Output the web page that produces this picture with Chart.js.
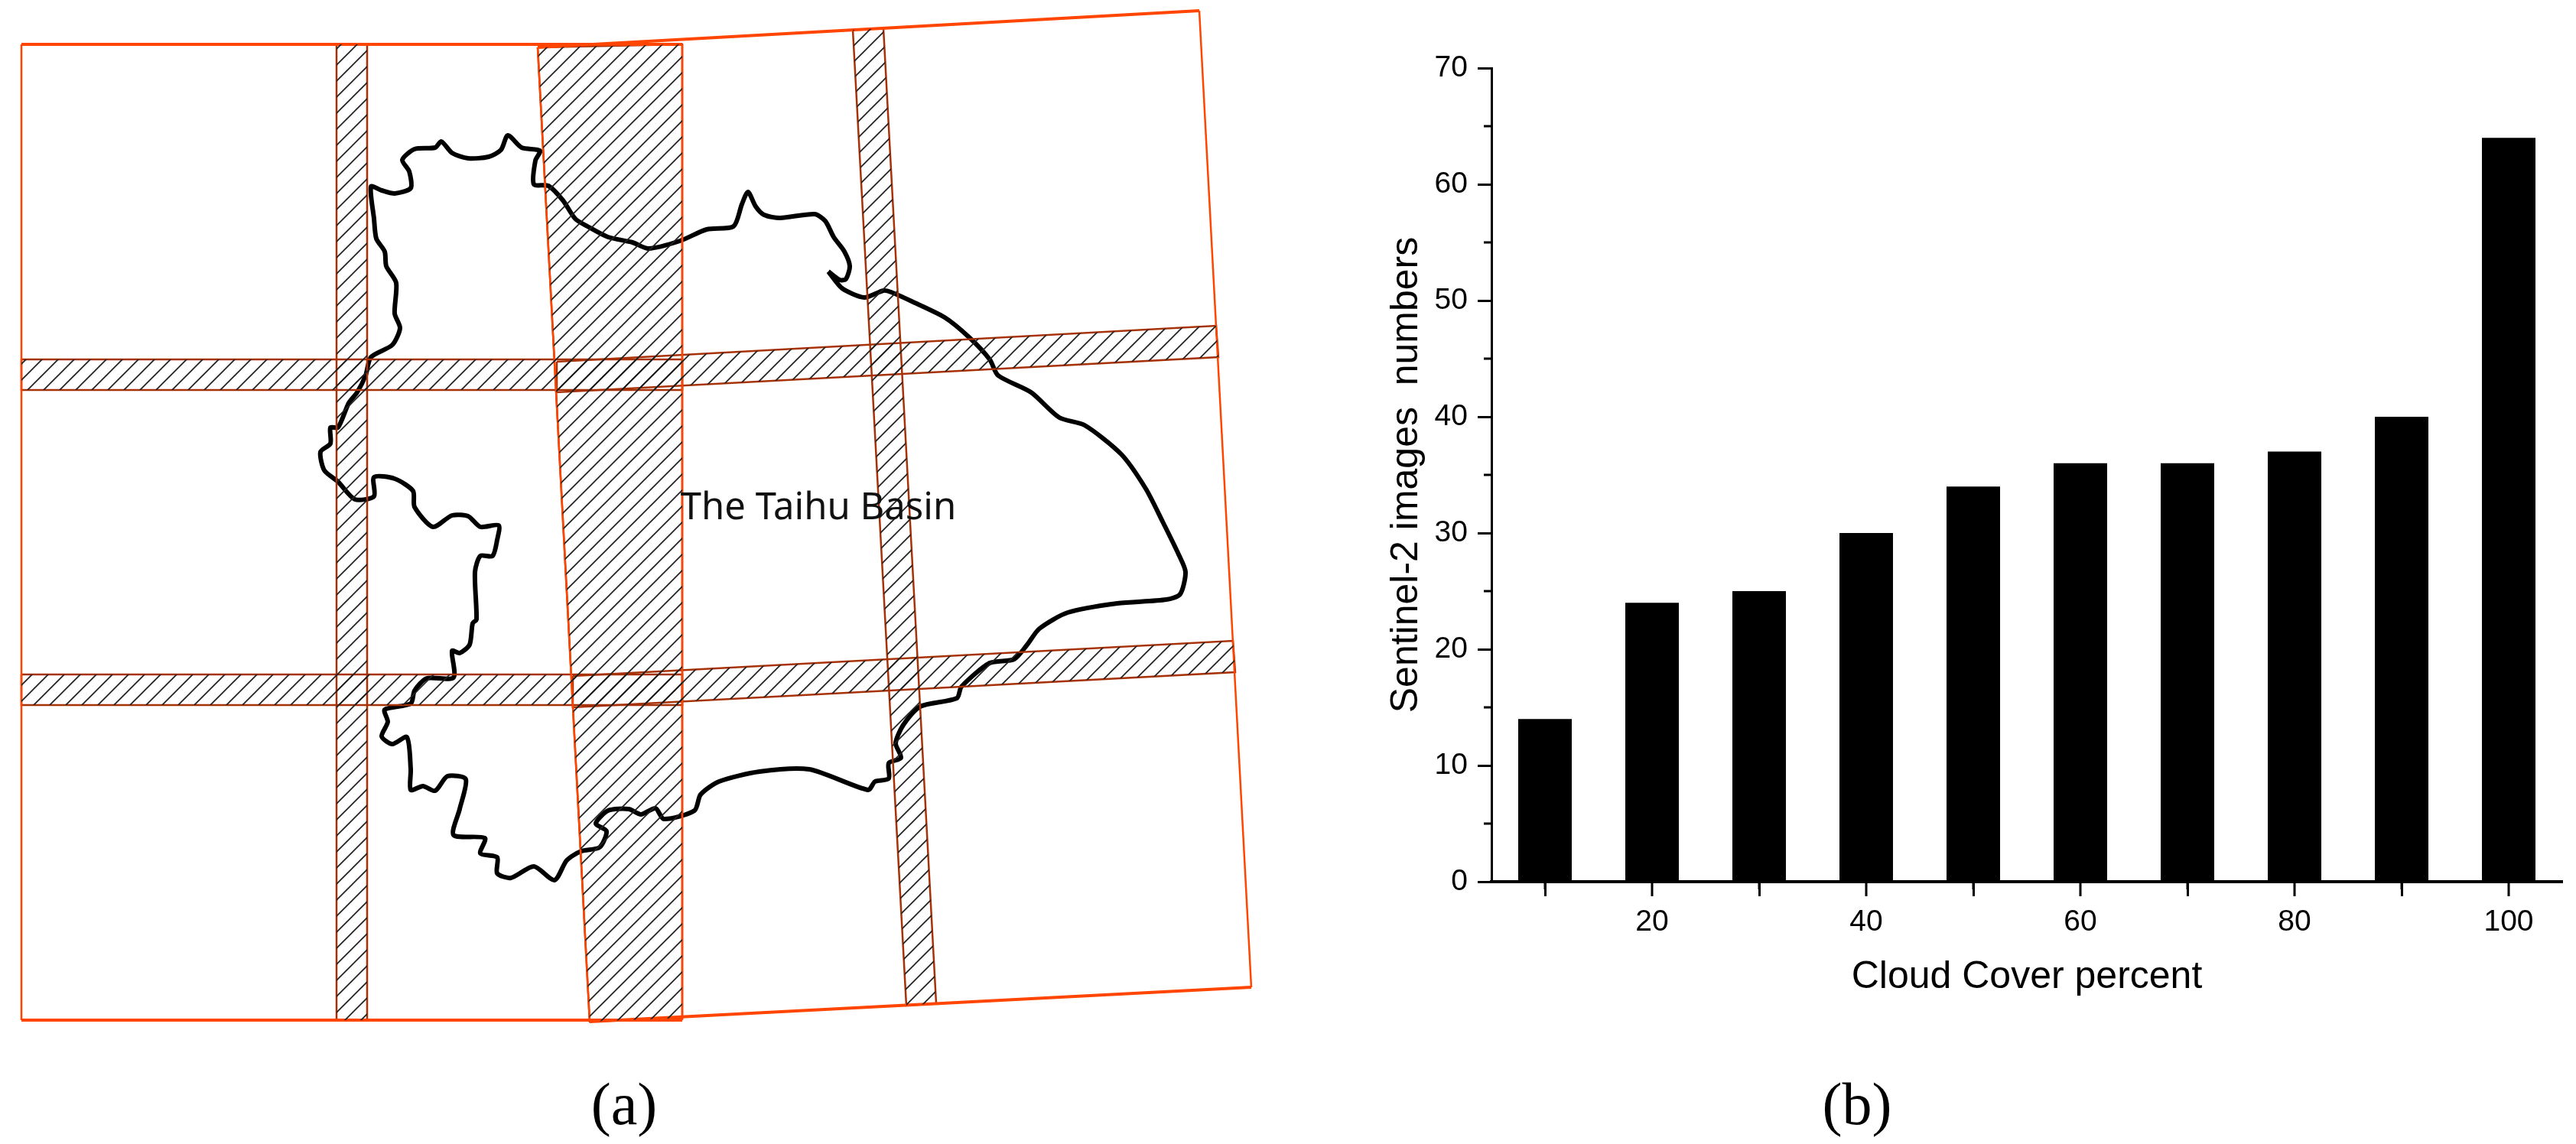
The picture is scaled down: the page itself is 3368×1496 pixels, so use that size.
<!DOCTYPE html>
<html>
<head>
<meta charset="utf-8">
<title>Taihu Basin Sentinel-2 coverage</title>
<script src="https://cdn.jsdelivr.net/npm/chart.js@4"></script>
<style>
  html, body { margin: 0; padding: 0; background: #fff; }
  canvas { position: absolute; top: 0; }
  #mapChart { left: 0; }
  #barChart { left: 1760px; }
</style>
</head>
<body>
<canvas id="mapChart" width="1760" height="1496"></canvas>
<canvas id="barChart" width="1608" height="1496"></canvas>
<script>
// bar chart values
const cloudCover = [10, 20, 30, 40, 50, 60, 70, 80, 90, 100];
const imageCounts = [14, 24, 25, 30, 34, 36, 36, 37, 40, 64];
const xMajorTicks = [20, 40, 60, 80, 100];
const xMinorTicks = [10, 30, 50, 70, 90];
const yMinorTicks = [5, 15, 25, 35, 45, 55, 65];

// scene frames
const leftFrame = [[28, 58], [892, 58], [892, 1334], [28, 1334]];
const rightFrame = [[703, 62], [1568, 14], [1636, 1291], [771, 1336]];

// overlap strips between neighbouring scenes
const stripWest = [[440, 58], [480, 58], [480, 1334], [440, 1334]];
const stripMiddle = [[703, 62], [892, 58], [892, 1331], [771, 1336]];
const stripEast = [[1115, 39], [1155, 37], [1224, 1312], [1185, 1315]];
const stripNorthLeft = [[28, 470], [892, 470], [892, 510], [28, 510]];
const stripSouthLeft = [[28, 882], [892, 882], [892, 922], [28, 922]];
const stripNorthRight = [[728, 473], [1590, 426], [1593, 467], [728, 513]];
const stripSouthRight = [[749, 884], [1612, 838], [1615, 879], [749, 925]];

// basin outline
const basinOutline = [
  [1083, 355], [1098, 366], [1106, 365], [1111, 348], [1104, 329], [1090, 310], [1079, 289], [1065, 280],
  [1020, 285], [999, 281], [988, 270], [978, 251], [970, 267], [959, 296], [924, 300], [889, 315],
  [848, 325], [827, 317], [795, 310], [768, 296], [752, 286], [736, 262], [717, 243], [698, 241],
  [700, 210], [706, 197], [682, 193], [664, 177], [655, 196], [639, 205], [612, 207], [591, 200],
  [577, 185], [569, 193], [542, 195], [526, 209], [535, 224], [537, 246], [516, 253], [499, 249],
  [485, 244], [489, 286], [492, 312], [503, 329], [505, 348], [518, 370], [516, 410], [523, 429],
  [513, 451], [485, 467], [478, 491], [467, 513], [456, 527], [442, 559], [432, 559], [432, 580],
  [419, 591], [424, 615], [442, 630], [464, 653], [489, 649], [489, 624], [516, 626], [540, 642],
  [542, 663], [566, 689], [591, 674], [612, 675], [628, 689], [652, 687], [650, 706], [644, 727],
  [628, 727], [621, 748], [623, 810], [618, 815], [614, 843], [601, 854], [591, 851], [593, 886],
  [558, 887], [542, 903], [537, 920], [503, 928], [507, 944], [499, 963], [513, 973], [532, 964],
  [537, 1006], [537, 1033], [553, 1028], [569, 1034], [585, 1015], [609, 1019], [601, 1058], [593, 1092],
  [634, 1096], [628, 1116], [650, 1121], [650, 1142], [668, 1148], [698, 1133], [725, 1151], [741, 1125],
  [760, 1113], [784, 1108], [793, 1087], [779, 1077], [795, 1060], [822, 1058], [838, 1065], [857, 1057],
  [868, 1071], [908, 1060], [916, 1039], [940, 1022], [993, 1009], [1058, 1006], [1135, 1033], [1144, 1022],
  [1162, 1018], [1162, 998], [1178, 991], [1171, 972], [1181, 948], [1203, 924], [1251, 913], [1257, 898],
  [1294, 867], [1326, 862], [1343, 843], [1359, 822], [1396, 801], [1461, 789], [1525, 784], [1543, 777],
  [1550, 748], [1541, 725], [1520, 682], [1498, 639], [1466, 594], [1418, 556], [1385, 546], [1348, 513],
  [1305, 491], [1294, 470], [1267, 441], [1235, 415], [1192, 394], [1165, 382], [1155, 380], [1130, 389],
  [1101, 377], [1083, 355]
];

const ORANGE = '#ff4500';
const STRIP_EDGE = '#a83208';

// 45 degree hatch tile for the overlap strips
function makeHatch() {
  const size = 21;
  const tile = document.createElement('canvas');
  tile.width = size;
  tile.height = size;
  const c = tile.getContext('2d');
  c.strokeStyle = '#222';
  c.lineWidth = 1.7;
  c.beginPath();
  c.moveTo(-2, size + 2);
  c.lineTo(size + 2, -2);
  c.moveTo(-2, 2);
  c.lineTo(2, -2);
  c.moveTo(size - 2, size + 2);
  c.lineTo(size + 2, size - 2);
  c.stroke();
  return c.createPattern(tile, 'repeat');
}

function toPoints(list, closed) {
  const pts = list.map(p => ({ x: p[0], y: p[1] }));
  if (closed) pts.push({ x: list[0][0], y: list[0][1] });
  return pts;
}

// horizontal edges look heavier than the vertical ones in the original
function edgeWidth(ctx) {
  const dx = Math.abs(ctx.p1.parsed.x - ctx.p0.parsed.x);
  const dy = Math.abs(ctx.p1.parsed.y - ctx.p0.parsed.y);
  return dx > dy ? 4 : 2.5;
}

const hatch = makeHatch();
const strips = [stripWest, stripMiddle, stripEast, stripNorthLeft, stripSouthLeft, stripNorthRight, stripSouthRight];
const mapDatasets = [];

strips.forEach(strip => {
  mapDatasets.push({ data: toPoints(strip, true), showLine: true, fill: 'shape', backgroundColor: hatch, borderWidth: 0, pointRadius: 0 });
});
[leftFrame, rightFrame].forEach(frame => {
  mapDatasets.push({ data: toPoints(frame, true), showLine: true, fill: false, borderColor: ORANGE, pointRadius: 0, segment: { borderWidth: edgeWidth } });
});
strips.forEach(strip => {
  mapDatasets.push({ data: toPoints(strip, true), showLine: true, fill: false, borderColor: STRIP_EDGE, borderWidth: 2.5, pointRadius: 0 });
});
mapDatasets.push({ data: toPoints(basinOutline, false), showLine: true, fill: false, borderColor: '#000', borderWidth: 6, borderJoinStyle: 'round', tension: 0.25, pointRadius: 0 });

// draws text at scale positions
const mapText = {
  id: 'mapText',
  afterDatasetsDraw(chart) {
    const { ctx, scales } = chart;
    ctx.save();
    ctx.fillStyle = '#111';
    ctx.textAlign = 'center';
    ctx.textBaseline = 'middle';
    ctx.font = '49px "Noto Sans"';
    ctx.fillText('The Taihu Basin', scales.x.getPixelForValue(1070), scales.y.getPixelForValue(665));
    ctx.fillStyle = '#000';
    ctx.font = '78px "Liberation Serif"';
    ctx.fillText('(a)', scales.x.getPixelForValue(816), scales.y.getPixelForValue(1450));
    ctx.restore();
  }
};

new Chart(document.getElementById('mapChart'), {
  type: 'scatter',
  data: { datasets: mapDatasets },
  options: {
    responsive: false,
    animation: false,
    devicePixelRatio: 1,
    layout: { padding: 0 },
    plugins: { legend: { display: false }, tooltip: { enabled: false }, title: { display: false } },
    scales: {
      x: { type: 'linear', min: 0, max: 1760, display: false },
      y: { type: 'linear', min: 0, max: 1496, reverse: true, display: false }
    }
  },
  plugins: [mapText]
});

// x tick marks, y minor ticks and the (b) caption
const barExtras = {
  id: 'barExtras',
  afterDraw(chart) {
    const { ctx, scales, chartArea } = chart;
    ctx.save();
    ctx.strokeStyle = '#000';
    ctx.lineWidth = 3;
    ctx.beginPath();
    xMajorTicks.forEach(v => {
      const px = scales.x.getPixelForValue(v);
      ctx.moveTo(px, chartArea.bottom);
      ctx.lineTo(px, chartArea.bottom + 19);
    });
    xMinorTicks.forEach(v => {
      const px = scales.x.getPixelForValue(v);
      ctx.moveTo(px, chartArea.bottom);
      ctx.lineTo(px, chartArea.bottom + 10);
    });
    yMinorTicks.forEach(v => {
      const py = scales.y.getPixelForValue(v);
      ctx.moveTo(chartArea.left, py);
      ctx.lineTo(chartArea.left - 10, py);
    });
    ctx.stroke();
    ctx.fillStyle = '#000';
    ctx.textAlign = 'center';
    ctx.textBaseline = 'middle';
    ctx.font = '78px "Liberation Serif"';
    ctx.fillText('(b)', 668, 1450);
    ctx.restore();
  }
};

new Chart(document.getElementById('barChart'), {
  type: 'bar',
  data: {
    labels: cloudCover,
    datasets: [{
      data: cloudCover.map((c, i) => ({ x: c, y: imageCounts[i] })),
      backgroundColor: '#000',
      borderWidth: 0,
      barPercentage: 1,
      categoryPercentage: 0.5
    }]
  },
  options: {
    responsive: false,
    animation: false,
    devicePixelRatio: 1,
    layout: { padding: { top: 89, right: 18, left: 0, bottom: 0 } },
    plugins: { legend: { display: false }, tooltip: { enabled: false }, title: { display: false } },
    scales: {
      x: {
        type: 'linear',
        min: 5,
        max: 105,
        offset: false,
        afterBuildTicks: scale => { scale.ticks = xMajorTicks.map(v => ({ value: v })); },
        afterFit: scale => { scale.height = 343; },
        grid: { drawOnChartArea: false, drawTicks: true, tickLength: 19, tickWidth: 3, tickColor: '#000' },
        border: { display: true, color: '#000', width: 4 },
        ticks: {
          autoSkip: false,
          maxRotation: 0,
          padding: 11,
          color: '#000',
          font: { family: '"Liberation Sans"', size: 39 },
          callback: v => v
        },
        title: {
          display: true,
          text: 'Cloud Cover percent',
          color: '#000',
          font: { family: '"Liberation Sans"', size: 50 },
          padding: { top: 0, bottom: 188 }
        }
      },
      y: {
        type: 'linear',
        min: 0,
        max: 70,
        afterFit: scale => { scale.width = 190; },
        grid: { drawOnChartArea: false, drawTicks: true, tickLength: 18, tickWidth: 3, tickColor: '#000' },
        border: { display: true, color: '#000', width: 3 },
        ticks: {
          stepSize: 10,
          padding: 13,
          color: '#000',
          font: { family: '"Liberation Sans"', size: 39 }
        },
        title: {
          display: true,
          text: 'Sentinel-2 images  numbers',
          color: '#000',
          font: { family: '"Liberation Sans"', size: 50 },
          padding: { top: 49, bottom: 0 }
        }
      }
    }
  },
  plugins: [barExtras]
});
</script>
</body>
</html>
